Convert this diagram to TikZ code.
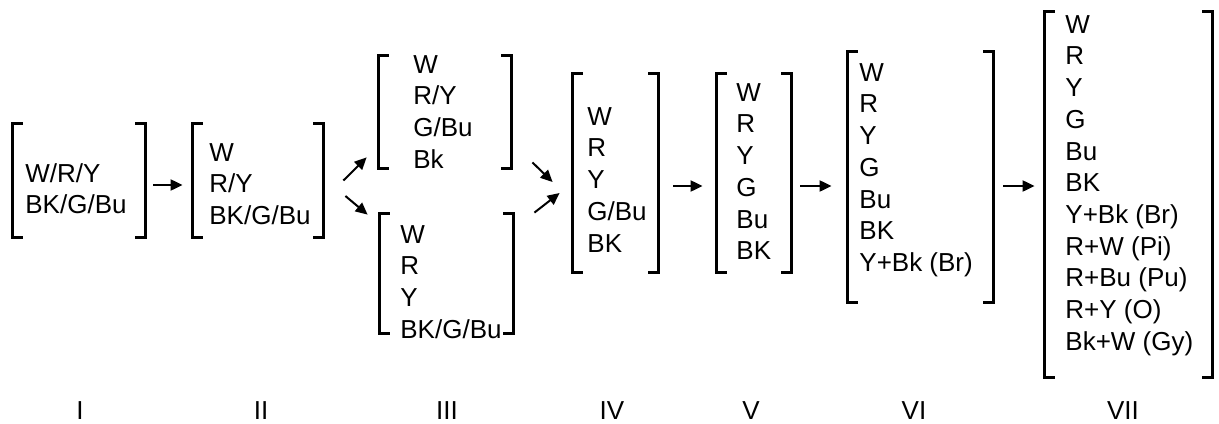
\documentclass[tikz,border=0pt]{standalone}
\usepackage{fontspec}
\setmainfont{Liberation Sans}
\usetikzlibrary{arrows.meta}
\newcommand\brackets[1]{%
	\draw[brk] ([xshift=5pt]#1.north west) -| (#1.south west) -- ++(5pt,0);
	\draw[brk] ([xshift=-5pt]#1.north east) -| (#1.south east) -- ++(-5pt,0);
}
\begin{document}
\begin{tikzpicture}[
		x=0.5pt,y=-0.5pt,
		every node/.append style={font=\fontsize{13}{15.85}\selectfont,inner sep=0pt},
		lst/.style={anchor=north west,align=left},
		brk/.style={line width=1.2pt},
		arr/.style={-{Triangle[length=6pt,width=5.5pt]},line width=1pt}
	]
	\useasboundingbox (0,0) rectangle (1219,423);
	% bracket boxes
	\node[minimum width=66pt,minimum height=56.5pt] (I) at (79,180.5) {};
	\node[minimum width=65pt,minimum height=56.5pt] (II) at (258,180.5) {};
	\node[minimum width=66pt,minimum height=56pt] (IIIa) at (445,112) {};
	\node[minimum width=66.5pt,minimum height=59.5pt] (IIIb) at (446.5,273.5) {};
	\node[minimum width=42.5pt,minimum height=99pt] (IV) at (615.5,173) {};
	\node[minimum width=37pt,minimum height=99pt] (V) at (754,173) {};
	\node[minimum width=72.5pt,minimum height=125pt] (VI) at (920.5,177) {};
	\node[minimum width=83.5pt,minimum height=182.5pt] (VII) at (1128.5,194.5) {};
	\brackets{I}
	\brackets{II}
	\brackets{IIIa}
	\brackets{IIIb}
	\brackets{IV}
	\brackets{V}
	\brackets{VI}
	\brackets{VII}
	% contents
	\node[lst] (tI) at (25,163) {W/R/Y\\BK/G/Bu};
	\node[lst] (tII) at (209,143) {W\\R/Y\\BK/G/Bu};
	\node[lst] (tIIIa) at (413,55) {W\\R/Y\\G/Bu\\Bk};
	\node[lst] (tIIIb) at (400,225) {W\\R\\Y\\BK/G/Bu};
	\node[lst] (tIV) at (587,107) {W\\R\\Y\\G/Bu\\BK};
	\node[lst] (tV) at (736,83) {W\\R\\Y\\G\\Bu\\BK};
	\node[lst] (tVI) at (859,63) {W\\R\\Y\\G\\Bu\\BK\\Y+Bk (Br)};
	\node[lst] (tVII) at (1065,15) {W\\R\\Y\\G\\Bu\\BK\\Y+Bk (Br)\\R+W (Pi)\\R+Bu (Pu)\\R+Y (O)\\Bk+W (Gy)};
	% stages
	\node[anchor=base] (nI) at (80,419) {I};
	\node[anchor=base] (nII) at (261,419) {II};
	\node[anchor=base] (nIII) at (447,419) {III};
	\node[anchor=base] (nIV) at (612,419) {IV};
	\node[anchor=base] (nV) at (751,419) {V};
	\node[anchor=base] (nVI) at (914,419) {VI};
	\node[anchor=base] (nVII) at (1123,419) {VII};
	% arrows
	\draw[arr] ([xshift=4pt,yshift=-2.25pt]I.east) -- ([xshift=-5pt,yshift=-2.25pt]II.west);
	\draw[arr] ([xshift=10pt]II.east) -- ([xshift=-6pt,yshift=5.5pt]IIIa.south west);
	\draw[arr] ([xshift=11pt,yshift=-7.75pt]II.east) -- ([xshift=-6pt,yshift=-0.5pt]IIIb.north west);
	\draw[arr] ([xshift=10.5pt,yshift=3pt]IIIa.south east) -- ([xshift=-10pt,yshift=-4.5pt]IV.west);
	\draw[arr] ([xshift=10.5pt,yshift=0.5pt]IIIb.north east) -- ([xshift=-6.5pt,yshift=-10pt]IV.west);
	\draw[arr] ([xshift=7.5pt,yshift=-6.5pt]IV.east) -- ([xshift=-7pt,yshift=-6.5pt]V.west);
	\draw[arr] ([xshift=4.5pt,yshift=-6.5pt]V.east) -- ([xshift=-8pt,yshift=-4.5pt]VI.west);
	\draw[arr] ([xshift=5pt,yshift=-4.5pt]VI.east) -- ([xshift=-5pt,yshift=4.25pt]VII.west);
\end{tikzpicture}
\end{document}
